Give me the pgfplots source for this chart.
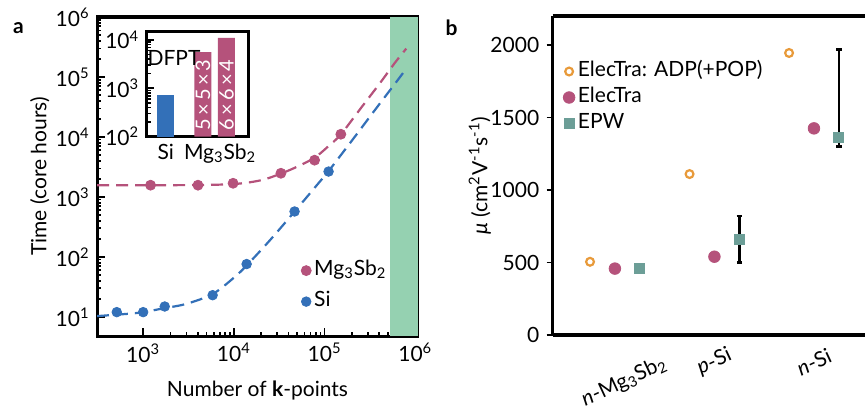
\documentclass[border=0pt]{standalone}
\usepackage{fontspec}
\setmainfont{Lato}
\usepackage{pgfplots}
\pgfplotsset{compat=1.18}
\definecolor{mgpink}{HTML}{B5527B}
\definecolor{siblue}{HTML}{3370B8}
\definecolor{band}{HTML}{95D1B1}
\definecolor{adporange}{HTML}{E89A3A}
\definecolor{epwteal}{HTML}{6C9E97}

\pgfplotsset{
  markonly/.style={
    legend image code/.code={\draw[mark repeat=2,mark phase=2,##1] plot coordinates {(0pt,0pt)(5pt,0pt)(10pt,0pt)};}},
  fitline/.style={dash pattern=on 6pt off 3.5pt, line width=1.1pt, smooth, no marks},
}

\begin{document}
\fontsize{10.5}{12.6}\selectfont
\begin{tikzpicture}
\useasboundingbox (0pt,0pt) rectangle (432.5pt,204pt);

\node at (9.2pt,189.8pt) {\textbf{a}};
\node at (225.8pt,190pt) {\textbf{b}};

% panel a: cost against k-point count
\begin{axis}[
  at={(48.5pt,36pt)}, anchor=south west, scale only axis,
  width=160.5pt, height=159.5pt,
  xmode=log, ymode=log,
  xmin=310, xmax=1.07e6, ymin=4.8, ymax=1e6,
  xtick={1e3,1e4,1e5,1e6},
  xticklabels={10\textsuperscript{3},10\textsuperscript{4},10\textsuperscript{5},10\textsuperscript{6}},
  ytick={10,100,1000,1e4,1e5,1e6},
  yticklabels={10\textsuperscript{1},10\textsuperscript{2},10\textsuperscript{3},10\textsuperscript{4},10\textsuperscript{5},10\textsuperscript{6}},
  xtick pos=bottom, ytick pos=left, tick align=inside,
  major tick length=4pt, minor tick length=2pt,
  tick style={black, line width=0.8pt},
  axis line style={line width=1.5pt},
  xlabel={Number of \textbf{k}-points},
  ylabel={Time (core hours)},
  every axis x label/.style={at={(axis description cs:0.5,-0.17)}, anchor=center},
  every axis y label/.style={at={(axis description cs:-0.178,0.5)}, rotate=90, anchor=center},
  markonly,
  legend style={draw=none, fill=none, inner sep=0pt, row sep=2.5pt,
    at={(axis description cs:0.635,0.247)}, anchor=north west,
    nodes={inner sep=1.5pt, text height=7.5pt, text depth=2.5pt}},
  legend cell align=left,
]
\addplot[fill=band, draw=none, forget plot] coordinates {(5.3e5,4.8) (1.07e6,4.8) (1.07e6,1e6) (5.3e5,1e6)} -- cycle;
\addplot[fitline, mgpink, forget plot] coordinates {
  (310,1570) (3000,1575) (10000,1640) (20000,1900) (33000,2450) (50000,3200)
  (77600,4500) (110000,7000) (151000,11000) (250000,30000) (400000,76000)
  (600000,175000) (795000,297000)
};
\addplot[fitline, siblue, forget plot] coordinates {
  (310,10.3) (700,11.3) (1000,12) (1728,14) (3000,16.5) (5832,24) (10000,45)
  (13824,72) (25000,190) (46656,570) (80000,1500) (110592,2700) (200000,8700)
  (400000,35000) (600000,78000) (795000,138000)
};
\addplot[only marks, mark=*, mark size=2.5pt, mgpink] coordinates {
  (1207,1570) (4020,1570) (9800,1690) (33000,2480) (77600,4100) (151000,11100)
};
\addlegendentry{Mg\textsubscript{3}Sb\textsubscript{2}}
\addplot[only marks, mark=*, mark size=2.4pt, siblue] coordinates {
  (512,12) (1000,12) (1728,14.9) (5832,23) (13824,76) (46656,572) (110592,2650)
};
\addlegendentry{Si}
\end{axis}

% inset: DFPT cost
\begin{axis}[
  at={(73.3pt,135.7pt)}, anchor=south west, scale only axis,
  width=50.8pt, height=52.5pt,
  ymode=log, log origin=infty,
  xmin=-0.81, xmax=3.49, ymin=100, ymax=14800,
  axis background/.style={fill=white},
  ytick={100,1000,10000},
  yticklabels={10\textsuperscript{2},10\textsuperscript{3},10\textsuperscript{4}},
  xtick={0,2.3},
  xticklabels={Si, Mg\textsubscript{3}Sb\textsubscript{2}},
  ytick pos=left, tick align=inside,
  major tick length=3.5pt, minor tick length=2pt,
  x tick style={draw=none},
  tick style={black, line width=0.8pt},
  axis line style={line width=1.5pt},
  clip=false,
]
\addplot[ybar, bar width=8.5pt, bar shift=0pt, fill=siblue, draw=none] coordinates {(0,710)};
\addplot[ybar, bar width=8.5pt, bar shift=0pt, fill=mgpink, draw=none] coordinates {(1.57,5600) (2.57,11000)};
\node at (axis cs:0.35,4300) {DFPT};
\node[white, rotate=90, font=\fontsize{10}{12}\selectfont] at (axis cs:1.57,720) {5\,×\,5\,×\,3};
\node[white, rotate=90, font=\fontsize{10}{12}\selectfont] at (axis cs:2.57,720) {6\,×\,6\,×\,4};
\end{axis}

% panel b: mobilities
\begin{axis}[
  at={(276.3pt,36.5pt)}, anchor=south west, scale only axis,
  width=156.2pt, height=159.5pt,
  xmin=-0.626, xmax=2.513, ymin=0, ymax=2200,
  axis x line*=box, axis y line*=left,
  axis line style={line width=1.6pt},
  ytick={0,500,1000,1500,2000},
  /pgf/number format/.cd, 1000 sep={}, assume math mode=true, /pgfplots/.cd,
  tick align=outside, ytick pos=left,
  major tick length=3pt,
  tick style={black, line width=0.9pt},
  x tick style={draw=none},
  xtick={1,2},
  xticklabels={\textit{p}-Si, \textit{n}-Si},
  extra x ticks={0},
  extra x tick labels={\textit{n}-Mg\textsubscript{3}Sb\textsubscript{2}},
  extra x tick style={xticklabel style={yshift=-11pt}, tick style={draw=none}},
  xticklabel style={yshift=-10.5pt, rotate=25, anchor=center},
  ylabel={\textit{μ} (cm\textsuperscript{2}V\textsuperscript{-1}s\textsuperscript{-1})},
  every axis y label/.style={at={(axis description cs:-0.233,0.5)}, rotate=90, anchor=center},
  markonly,
  legend style={draw=none, fill=none, inner sep=0pt, row sep=0pt,
    at={(axis description cs:0.033,0.868)}, anchor=north west,
    nodes={inner sep=1.5pt, text height=7.5pt, text depth=2.5pt}},
  legend cell align=left,
  clip=false,
]
\addplot[only marks, mark=o, mark size=1.95pt, adporange, line width=1.1pt] coordinates {
  (-0.25,505) (0.75,1110) (1.75,1945)
};
\addlegendentry{ElecTra: ADP(+POP)}
\addplot[only marks, mark=*, mark size=2.9pt, mgpink] coordinates {
  (0,458) (1,540) (2,1425)
};
\addlegendentry{ElecTra}
\addplot[only marks, mark=square*, mark size=2.5pt, epwteal] coordinates {
  (0.25,458) (1.25,660) (2.25,1360)
};
\addlegendentry{EPW}
\addplot[draw=none, black, forget plot,
  error bars/.cd, y dir=both, y explicit,
  error bar style={line width=1.3pt, black},
  error mark options={rotate=90, mark size=1.4pt, line width=1.3pt, black}]
  coordinates {
  (1.25,660) += (0,160) -= (0,160)
  (2.25,1360) += (0,610) -= (0,60)
};
\end{axis}
\end{tikzpicture}
\end{document}
